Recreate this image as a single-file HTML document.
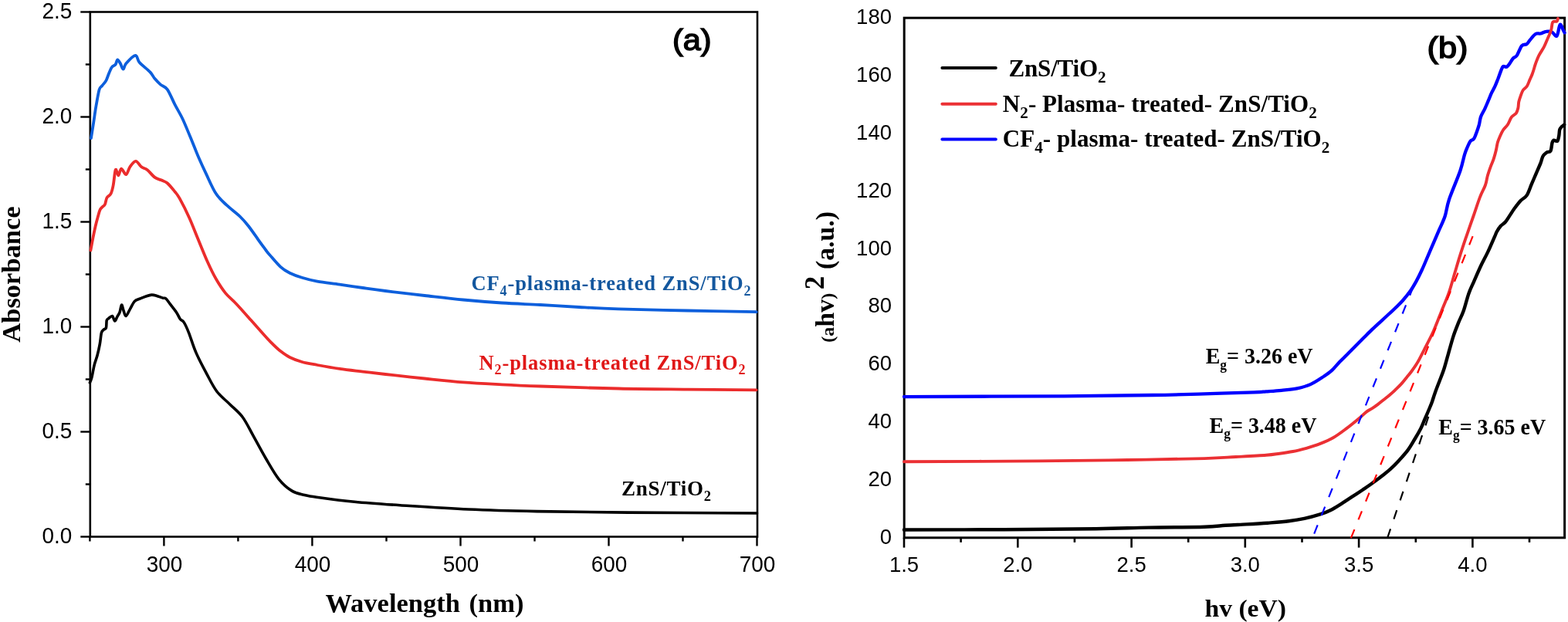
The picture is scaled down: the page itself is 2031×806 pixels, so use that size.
<!DOCTYPE html><html><head><meta charset="utf-8"><title>Absorbance and Tauc plots</title><style>html,body{margin:0;padding:0;background:#fff;width:2031px;height:806px;overflow:hidden}svg{display:block}</style></head><body>
<svg width="2031" height="806" viewBox="0 0 2031 806">
<rect width="2031" height="806" fill="#fff"/>
<g stroke="#000" stroke-width="2.6" fill="none" stroke-linecap="square">
<rect x="116.8" y="15.5" width="864.2" height="680.0"/>
</g>
<g stroke="#000" stroke-width="2.4"><line x1="116.4" y1="695.5" x2="116.4" y2="701.5"/><line x1="212.4" y1="695.5" x2="212.4" y2="707.5"/><line x1="308.4" y1="695.5" x2="308.4" y2="701.5"/><line x1="404.4" y1="695.5" x2="404.4" y2="707.5"/><line x1="500.5" y1="695.5" x2="500.5" y2="701.5"/><line x1="596.5" y1="695.5" x2="596.5" y2="707.5"/><line x1="692.5" y1="695.5" x2="692.5" y2="701.5"/><line x1="788.5" y1="695.5" x2="788.5" y2="707.5"/><line x1="884.5" y1="695.5" x2="884.5" y2="701.5"/><line x1="980.5" y1="695.5" x2="980.5" y2="707.5"/><line x1="104.3" y1="695.5" x2="116.8" y2="695.5"/><line x1="110.8" y1="627.5" x2="116.8" y2="627.5"/><line x1="104.3" y1="559.5" x2="116.8" y2="559.5"/><line x1="110.8" y1="491.5" x2="116.8" y2="491.5"/><line x1="104.3" y1="423.5" x2="116.8" y2="423.5"/><line x1="110.8" y1="355.5" x2="116.8" y2="355.5"/><line x1="104.3" y1="287.5" x2="116.8" y2="287.5"/><line x1="110.8" y1="219.5" x2="116.8" y2="219.5"/><line x1="104.3" y1="151.5" x2="116.8" y2="151.5"/><line x1="110.8" y1="83.5" x2="116.8" y2="83.5"/><line x1="104.3" y1="15.5" x2="116.8" y2="15.5"/></g>
<g fill="none" stroke-linejoin="round" stroke-linecap="round">
<path d="M118.0,179.0 C118.5,175.8 119.9,167.0 121.0,160.0 C122.1,153.0 123.2,144.3 124.5,137.0 C125.8,129.7 127.3,120.3 128.6,116.0 C129.9,111.7 130.9,112.9 132.3,111.0 C133.8,109.1 136.1,106.7 137.3,104.6 C138.6,102.5 138.6,101.3 139.8,98.4 C141.0,95.5 143.0,89.7 144.7,87.2 C146.3,84.7 148.4,85.2 149.7,83.5 C150.9,81.8 151.2,77.5 152.2,77.3 C153.2,77.1 154.7,80.2 155.9,82.3 C157.1,84.4 158.4,89.7 159.6,89.7 C160.8,89.7 160.7,85.3 163.3,82.3 C165.9,79.3 172.4,72.0 175.3,71.8 C178.2,71.6 177.5,77.4 180.7,81.0 C183.9,84.6 191.1,89.9 194.4,93.4 C197.7,96.9 198.3,99.4 200.6,102.1 C202.9,104.8 205.3,107.3 208.0,109.6 C210.7,111.9 213.6,111.5 216.7,115.8 C219.8,120.1 223.3,129.2 226.6,135.6 C229.9,142.0 233.3,147.2 236.6,154.2 C239.9,161.2 243.0,169.2 246.5,177.5 C250.0,185.8 253.9,196.2 257.4,204.3 C260.9,212.4 263.6,218.2 267.3,225.9 C271.0,233.7 275.4,244.2 279.7,250.8 C284.0,257.4 288.2,260.8 293.4,265.7 C298.6,270.6 306.1,275.9 310.8,280.5 C315.6,285.1 318.0,288.0 321.9,293.0 C325.8,298.0 330.6,305.1 334.3,310.3 C338.0,315.5 341.8,320.6 344.3,324.0 C346.8,327.4 346.3,326.9 349.5,330.5 C352.7,334.1 359.1,342.0 363.4,345.9 C367.7,349.8 370.7,351.5 375.3,353.8 C379.9,356.1 385.2,358.0 391.2,359.8 C397.1,361.6 402.9,363.2 411.0,364.7 C419.1,366.2 430.2,367.3 440.0,368.7 C449.8,370.1 460.1,371.6 470.0,373.0 C479.9,374.4 486.0,375.3 499.3,377.0 C512.6,378.7 533.2,381.1 550.0,383.0 C566.8,384.9 583.3,386.9 600.0,388.5 C616.7,390.1 633.3,391.4 650.0,392.5 C666.7,393.6 683.3,394.1 700.0,395.0 C716.7,395.9 733.2,397.1 750.0,398.0 C766.8,398.9 777.6,399.6 801.0,400.3 C824.4,401.1 860.5,401.9 890.3,402.5 C920.1,403.1 964.8,403.8 979.7,404.1" stroke="#0d5fdc" stroke-width="3.8"/>
<path d="M117.4,324.4 C117.9,321.7 119.5,313.2 120.5,308.0 C121.5,302.8 122.6,297.6 123.6,293.3 C124.6,289.0 125.5,285.5 126.5,282.0 C127.5,278.5 128.4,274.6 129.4,272.3 C130.4,270.1 131.2,269.8 132.3,268.5 C133.4,267.2 135.0,266.9 136.0,264.8 C137.0,262.7 137.2,258.4 138.5,256.1 C139.8,253.8 142.1,253.9 143.5,251.2 C144.9,248.5 145.7,245.2 146.7,240.0 C147.7,234.8 148.6,222.1 149.7,220.0 C150.8,217.9 152.2,227.6 153.4,227.4 C154.6,227.2 155.4,218.9 157.1,218.7 C158.8,218.5 161.4,226.6 163.3,226.2 C165.2,225.8 166.2,219.2 168.3,216.3 C170.4,213.4 173.3,208.8 175.8,208.8 C178.3,208.8 180.7,214.4 183.2,216.3 C185.7,218.2 187.7,217.7 190.6,220.0 C193.5,222.3 197.5,227.6 200.6,229.9 C203.7,232.2 206.6,232.4 209.3,233.6 C212.0,234.8 213.8,234.8 216.7,237.3 C219.6,239.8 223.9,245.2 226.6,248.5 C229.3,251.8 229.7,251.8 232.8,257.4 C235.9,263.0 241.3,273.5 245.2,282.2 C249.1,290.9 252.5,300.0 256.4,309.5 C260.3,319.0 264.9,330.6 268.8,339.3 C272.7,348.0 276.1,355.1 280.0,361.8 C283.9,368.5 287.6,374.3 291.9,379.6 C296.2,384.9 300.5,387.9 305.8,393.5 C311.1,399.1 318.1,407.1 323.7,413.4 C329.3,419.7 335.0,426.1 339.6,431.2 C344.2,436.3 347.5,440.1 351.5,444.1 C355.5,448.1 359.4,452.0 363.4,455.1 C367.4,458.2 370.7,460.7 375.3,463.0 C379.9,465.3 385.2,467.3 391.2,469.0 C397.1,470.7 402.9,471.5 411.0,473.0 C419.1,474.5 430.2,476.5 440.0,477.9 C449.8,479.3 460.1,480.4 470.0,481.6 C479.9,482.8 486.0,483.5 499.3,485.0 C512.6,486.5 533.2,488.8 550.0,490.5 C566.8,492.2 583.3,494.0 600.0,495.3 C616.7,496.6 633.3,497.4 650.0,498.3 C666.7,499.2 674.8,499.6 700.0,500.5 C725.2,501.4 769.3,502.8 801.0,503.5 C832.7,504.2 860.5,504.3 890.3,504.6 C920.1,504.9 964.8,505.2 979.7,505.3" stroke="#eb2c2c" stroke-width="3.8"/>
<path d="M116.4,495.8 C116.8,494.7 117.8,493.2 118.8,489.4 C119.8,485.6 120.9,478.0 122.1,473.2 C123.3,468.4 124.9,464.9 126.1,460.3 C127.3,455.7 128.4,450.6 129.3,445.8 C130.2,441.0 130.6,434.4 131.4,431.3 C132.2,428.2 133.2,428.4 134.2,427.3 C135.2,426.2 136.7,426.8 137.4,424.8 C138.1,422.8 137.7,417.2 138.2,415.2 C138.7,413.2 139.4,413.6 140.6,412.7 C141.8,411.8 144.2,408.9 145.5,409.5 C146.8,410.1 147.6,415.9 148.7,416.0 C149.8,416.1 150.8,412.2 151.9,410.3 C153.0,408.4 154.2,407.2 155.1,404.7 C156.0,402.1 156.7,395.4 157.5,395.0 C158.3,394.6 159.1,399.9 160.0,402.3 C160.9,404.7 161.7,409.9 163.2,409.5 C164.7,409.1 166.9,403.0 168.8,399.8 C170.7,396.6 172.3,392.4 174.5,390.2 C176.7,388.0 179.1,388.0 181.7,386.9 C184.2,385.8 187.4,384.5 189.8,383.7 C192.2,382.9 194.3,382.2 196.3,382.1 C198.3,382.0 199.5,382.2 201.9,382.9 C204.3,383.6 208.7,385.4 210.8,386.1 C213.0,386.8 213.2,385.5 214.8,386.9 C216.4,388.2 218.2,391.2 220.5,394.2 C222.8,397.2 226.3,401.5 228.5,404.7 C230.7,407.9 231.8,411.4 233.4,413.5 C235.0,415.6 236.3,414.6 238.2,417.6 C240.1,420.6 242.0,424.7 244.6,431.3 C247.2,437.9 250.2,448.4 254.0,457.1 C257.8,465.8 262.9,475.3 267.3,483.6 C271.8,491.9 275.7,500.3 280.7,507.0 C285.7,513.7 291.9,518.1 297.5,523.7 C303.1,529.3 309.2,533.8 314.2,540.5 C319.2,547.2 322.6,555.0 327.6,563.9 C332.6,572.8 338.7,584.5 344.3,594.0 C349.9,603.5 355.5,613.8 361.1,620.8 C366.7,627.8 372.2,632.4 377.8,635.9 C383.4,639.4 389.2,640.1 394.6,641.5 C400.0,642.9 399.2,642.8 410.0,644.2 C420.8,645.7 441.1,648.5 459.1,650.2 C477.1,652.0 493.6,653.1 518.2,654.7 C542.8,656.3 577.3,658.7 606.8,660.0 C636.3,661.3 660.9,661.9 695.4,662.6 C729.9,663.3 766.1,663.7 813.6,664.1 C861.1,664.5 952.7,664.9 980.5,665.0" stroke="#000" stroke-width="3.6"/>
</g>
<g font-family="'Liberation Sans', Arial, sans-serif" font-size="28.5" fill="#000"><text transform="translate(213.0,740.6) scale(0.98,1.05)" text-anchor="middle">300</text><text transform="translate(405.0,740.6) scale(0.98,1.05)" text-anchor="middle">400</text><text transform="translate(597.1,740.6) scale(0.98,1.05)" text-anchor="middle">500</text><text transform="translate(789.1,740.6) scale(0.98,1.05)" text-anchor="middle">600</text><text transform="translate(981.1,740.6) scale(0.98,1.05)" text-anchor="middle">700</text><text transform="translate(93.2,703.7) scale(0.98,1.05)" text-anchor="end">0.0</text><text transform="translate(93.2,567.7) scale(0.98,1.05)" text-anchor="end">0.5</text><text transform="translate(93.2,431.7) scale(0.98,1.05)" text-anchor="end">1.0</text><text transform="translate(93.2,295.7) scale(0.98,1.05)" text-anchor="end">1.5</text><text transform="translate(93.2,159.7) scale(0.98,1.05)" text-anchor="end">2.0</text><text transform="translate(93.2,23.7) scale(0.98,1.05)" text-anchor="end">2.5</text></g>
<text x="421.5" y="793.2" font-family="'Liberation Serif', 'Times New Roman', serif" font-weight="bold" font-size="34.5" fill="#000">Wavelength <tspan x="607.5">(nm)</tspan></text>
<text transform="translate(26,355.5) rotate(-90)" text-anchor="middle" font-family="'Liberation Serif', 'Times New Roman', serif" font-weight="bold" font-size="34.5" fill="#000">Absorbance</text>
<text x="871" y="65.3" textLength="50.5" lengthAdjust="spacingAndGlyphs" font-family="'Liberation Sans', Arial, sans-serif" font-size="38.5" fill="#000" stroke="#000" stroke-width="1.5">(a)</text>
<text x="610.5" y="376.0" font-family="'Liberation Serif', 'Times New Roman', serif" font-weight="bold" font-size="26.5" fill="#13579e" text-anchor="start" textLength="362" lengthAdjust="spacing"><tspan>CF</tspan><tspan dy="6.5" font-size="18.0">4</tspan><tspan dy="-6.5">-plasma-treated ZnS/TiO</tspan><tspan dy="6.5" font-size="18.0">2</tspan></text>
<text x="620.5" y="478.7" font-family="'Liberation Serif', 'Times New Roman', serif" font-weight="bold" font-size="26.5" fill="#e01818" text-anchor="start" textLength="345" lengthAdjust="spacing"><tspan>N</tspan><tspan dy="6.5" font-size="18.0">2</tspan><tspan dy="-6.5">-plasma-treated ZnS/TiO</tspan><tspan dy="6.5" font-size="18.0">2</tspan></text>
<text x="805" y="642.2" font-family="'Liberation Serif', 'Times New Roman', serif" font-weight="bold" font-size="27" fill="#000" text-anchor="start" textLength="116" lengthAdjust="spacing"><tspan>ZnS/TiO</tspan><tspan dy="6.5" font-size="18.4">2</tspan></text>
<rect x="1171.2" y="23.2" width="855.3999999999999" height="673.5999999999999" stroke="#000" stroke-width="3" fill="none"/>
<g stroke="#000" stroke-width="2.6"><line x1="1171.0" y1="696.8" x2="1171.0" y2="709.5999999999999"/><line x1="1244.6" y1="696.8" x2="1244.6" y2="702.8"/><line x1="1318.3" y1="696.8" x2="1318.3" y2="709.5999999999999"/><line x1="1391.9" y1="696.8" x2="1391.9" y2="702.8"/><line x1="1465.6" y1="696.8" x2="1465.6" y2="709.5999999999999"/><line x1="1539.2" y1="696.8" x2="1539.2" y2="702.8"/><line x1="1612.8" y1="696.8" x2="1612.8" y2="709.5999999999999"/><line x1="1686.5" y1="696.8" x2="1686.5" y2="702.8"/><line x1="1760.1" y1="696.8" x2="1760.1" y2="709.5999999999999"/><line x1="1833.8" y1="696.8" x2="1833.8" y2="702.8"/><line x1="1907.4" y1="696.8" x2="1907.4" y2="709.5999999999999"/><line x1="1981.0" y1="696.8" x2="1981.0" y2="702.8"/></g>
<g fill="none" stroke-linejoin="round" stroke-linecap="round">
<path d="M1171.0,514.1 C1205.6,514.0 1324.7,513.6 1378.4,513.3 C1432.1,512.9 1462.8,512.5 1493.1,512.0 C1523.4,511.5 1538.1,510.9 1560.0,510.3 C1581.9,509.7 1611.2,508.9 1624.5,508.4 C1637.8,507.9 1634.1,507.7 1640.0,507.3 C1645.9,506.9 1653.3,506.5 1660.0,505.8 C1666.7,505.1 1673.8,504.6 1680.0,503.3 C1686.2,502.0 1691.6,500.7 1697.4,498.1 C1703.2,495.5 1710.1,490.7 1714.7,487.7 C1719.3,484.7 1721.7,483.1 1725.2,479.9 C1728.7,476.7 1732.1,472.2 1735.6,468.6 C1739.1,465.0 1742.5,461.7 1746.0,458.2 C1749.5,454.7 1752.9,451.2 1756.4,447.7 C1759.9,444.2 1763.3,440.8 1766.8,437.3 C1770.3,433.8 1773.8,430.2 1777.3,426.9 C1780.8,423.6 1783.9,420.8 1787.7,417.3 C1791.5,413.8 1796.5,409.2 1800.0,406.0 C1803.5,402.8 1805.7,400.8 1808.5,398.0 C1811.3,395.2 1814.0,392.7 1817.1,389.2 C1820.2,385.7 1824.1,380.9 1827.0,376.8 C1829.9,372.7 1832.0,368.9 1834.5,364.4 C1837.0,359.8 1839.4,354.9 1841.9,349.5 C1844.4,344.1 1846.9,337.9 1849.4,332.1 C1851.9,326.3 1854.3,320.6 1856.8,314.8 C1859.3,309.0 1861.8,303.2 1864.3,297.4 C1866.8,291.6 1869.6,286.5 1871.7,280.0 C1873.8,273.5 1873.8,268.0 1877.1,258.2 C1880.4,248.4 1888.1,230.9 1891.4,221.2 C1894.7,211.5 1895.5,205.3 1897.1,200.1 C1898.7,194.9 1899.7,193.1 1900.9,190.2 C1902.2,187.3 1903.2,184.5 1904.6,182.8 C1906.0,181.1 1907.7,181.8 1909.1,179.8 C1910.5,177.8 1911.7,173.9 1912.8,170.9 C1913.9,167.9 1914.9,165.1 1915.8,161.9 C1916.7,158.7 1916.8,155.0 1918.0,151.5 C1919.2,148.0 1921.6,144.6 1923.2,141.1 C1924.8,137.6 1926.2,134.2 1927.7,130.7 C1929.2,127.2 1930.6,123.4 1932.1,120.2 C1933.6,117.0 1935.2,114.3 1936.6,111.3 C1938.0,108.3 1939.0,105.5 1940.3,102.3 C1941.5,99.1 1943.0,94.6 1944.1,91.9 C1945.2,89.2 1945.8,86.9 1947.0,86.0 C1948.2,85.1 1950.0,87.5 1951.5,86.7 C1953.0,86.0 1954.6,83.4 1956.0,81.5 C1957.4,79.6 1958.5,77.1 1960.0,75.5 C1961.5,73.9 1963.0,74.6 1964.8,71.9 C1966.6,69.2 1969.0,61.8 1971.1,59.3 C1973.2,56.8 1975.6,58.4 1977.4,57.2 C1979.2,56.0 1979.8,54.1 1981.7,51.9 C1983.6,49.7 1986.7,45.4 1989.0,44.0 C1991.3,42.6 1993.1,44.0 1995.4,43.5 C1997.7,43.0 2000.2,41.1 2002.7,40.8 C2005.2,40.4 2007.8,40.4 2010.1,41.4 C2012.4,42.4 2014.7,48.2 2016.5,46.6 C2018.3,45.0 2019.3,33.1 2020.7,31.9 C2022.1,30.7 2023.9,37.5 2024.9,39.2 C2025.9,41.0 2026.2,41.9 2026.5,42.4" stroke="#0000ff" stroke-width="4.3"/>
<path d="M1171.0,598.2 C1200.1,598.1 1297.5,597.8 1345.7,597.4 C1393.9,597.0 1424.6,596.5 1460.3,596.0 C1496.0,595.5 1536.6,594.8 1560.0,594.1 C1583.4,593.4 1587.6,592.7 1600.9,592.0 C1614.2,591.3 1630.6,590.5 1640.0,589.8 C1649.4,589.1 1651.6,588.5 1657.4,587.7 C1663.2,586.9 1668.9,586.1 1674.7,585.0 C1680.5,583.9 1686.3,582.4 1692.1,580.8 C1697.9,579.1 1703.7,577.4 1709.5,575.1 C1715.3,572.8 1721.0,570.5 1726.8,567.2 C1732.6,563.9 1738.4,559.4 1744.2,555.1 C1750.0,550.8 1757.2,544.8 1761.5,541.2 C1765.8,537.6 1767.3,535.6 1770.0,533.6 C1772.7,531.6 1774.9,530.7 1777.4,529.1 C1779.9,527.5 1782.4,525.8 1784.9,523.9 C1787.4,522.0 1789.8,520.0 1792.3,518.0 C1794.8,516.0 1797.3,514.1 1799.8,512.0 C1802.3,509.9 1804.7,507.7 1807.2,505.3 C1809.7,502.9 1812.2,500.6 1814.7,497.9 C1817.2,495.2 1819.9,491.6 1822.1,488.9 C1824.3,486.2 1825.7,484.8 1828.1,481.5 C1830.5,478.2 1833.8,473.6 1836.5,469.0 C1839.2,464.4 1841.0,460.5 1844.4,453.8 C1847.8,447.1 1853.1,437.3 1856.8,429.0 C1860.5,420.7 1863.5,412.4 1866.8,404.1 C1870.1,395.8 1873.8,387.6 1876.7,379.3 C1879.6,371.0 1881.6,362.8 1884.1,354.5 C1886.6,346.2 1889.1,337.6 1891.6,329.7 C1894.1,321.8 1896.2,315.6 1899.0,307.3 C1901.8,299.0 1905.5,288.6 1908.5,280.0 C1911.5,271.4 1914.4,262.1 1917.0,255.4 C1919.6,248.7 1922.2,244.7 1923.9,240.0 C1925.6,235.3 1925.7,231.6 1926.9,227.5 C1928.1,223.4 1929.6,219.2 1930.9,215.6 C1932.2,212.0 1933.7,209.2 1934.8,205.7 C1935.9,202.2 1937.0,198.3 1937.8,194.8 C1938.6,191.3 1939.0,187.8 1939.8,184.8 C1940.6,181.8 1941.6,179.6 1942.8,176.9 C1944.0,174.2 1945.3,171.1 1947.0,168.5 C1948.7,165.9 1951.1,164.3 1952.9,161.5 C1954.7,158.7 1956.1,154.1 1957.9,151.6 C1959.7,149.1 1962.5,148.6 1963.9,146.6 C1965.3,144.6 1965.8,142.2 1966.4,139.7 C1967.0,137.2 1966.7,134.3 1967.3,131.7 C1967.9,129.0 1968.9,126.3 1969.8,123.8 C1970.7,121.3 1971.5,118.8 1972.8,116.8 C1974.1,114.8 1976.3,114.1 1977.8,111.8 C1979.3,109.5 1980.5,105.5 1981.7,102.9 C1982.9,100.3 1983.9,98.2 1984.7,96.0 C1985.5,93.8 1986.0,92.2 1986.7,90.0 C1987.4,87.8 1987.9,85.5 1989.0,82.5 C1990.1,79.5 1991.5,75.4 1993.3,71.9 C1995.1,68.4 1997.8,64.7 1999.6,61.4 C2001.3,58.1 2002.2,55.6 2003.8,51.9 C2005.4,48.2 2007.9,43.1 2009.1,39.2 C2010.3,35.3 2010.0,30.6 2011.2,28.7 C2012.4,26.8 2015.4,28.5 2016.5,27.7 C2017.6,26.9 2017.8,24.6 2018.0,24.0" stroke="#eb3034" stroke-width="3.9"/>
<path d="M1171.0,686.5 C1192.5,686.5 1258.6,686.4 1300.0,686.2 C1341.4,686.0 1388.1,685.7 1419.4,685.3 C1450.7,684.9 1464.2,684.0 1487.6,683.6 C1511.0,683.2 1543.4,683.3 1560.0,682.8 C1576.6,682.3 1578.2,681.3 1587.3,680.7 C1596.4,680.1 1605.5,679.9 1614.6,679.4 C1623.7,678.9 1632.8,678.4 1641.9,677.7 C1651.0,677.0 1661.2,676.3 1669.2,675.3 C1677.2,674.3 1682.8,673.4 1689.6,671.9 C1696.4,670.4 1704.4,668.2 1710.1,666.4 C1715.8,664.6 1719.2,663.3 1723.7,661.0 C1728.2,658.7 1732.9,655.6 1737.4,652.8 C1742.0,649.9 1746.5,646.9 1751.0,643.9 C1755.5,640.9 1760.2,638.1 1764.7,635.0 C1769.2,631.9 1773.8,628.8 1778.3,625.5 C1782.8,622.2 1788.2,618.2 1792.0,615.2 C1795.8,612.2 1797.8,610.7 1801.2,607.6 C1804.6,604.5 1808.6,600.4 1812.3,596.4 C1816.0,592.4 1820.1,588.0 1823.5,583.4 C1826.9,578.8 1830.0,573.1 1832.8,568.5 C1835.6,563.9 1838.0,559.8 1840.2,555.5 C1842.4,551.2 1843.9,546.8 1845.8,542.5 C1847.7,538.2 1849.9,533.2 1851.4,529.5 C1853.0,525.8 1853.9,523.6 1855.1,520.2 C1856.3,516.8 1857.2,513.3 1858.8,509.0 C1860.3,504.7 1862.5,499.1 1864.4,494.2 C1866.3,489.2 1868.1,485.0 1870.0,479.3 C1871.9,473.6 1873.5,467.1 1875.6,459.9 C1877.6,452.7 1880.1,443.2 1882.3,436.3 C1884.5,429.4 1886.8,424.0 1889.0,418.4 C1891.2,412.8 1893.5,409.1 1895.7,402.8 C1897.9,396.5 1900.2,386.7 1902.4,380.4 C1904.6,374.1 1906.5,370.8 1909.1,364.8 C1911.7,358.9 1915.0,351.0 1918.0,344.7 C1921.0,338.4 1924.0,333.2 1927.0,326.9 C1930.0,320.6 1933.9,311.3 1935.9,306.8 C1937.9,302.3 1937.6,302.3 1938.9,300.0 C1940.2,297.7 1942.1,294.8 1943.9,292.8 C1945.7,290.8 1947.8,290.1 1949.8,287.8 C1951.8,285.5 1953.8,281.9 1955.8,278.9 C1957.8,275.9 1959.4,273.1 1961.7,270.0 C1964.0,266.9 1967.1,262.8 1969.7,260.0 C1972.3,257.2 1975.3,256.6 1977.6,253.1 C1979.9,249.6 1981.6,243.8 1983.6,239.2 C1985.6,234.6 1987.5,229.9 1989.5,225.3 C1991.5,220.7 1994.0,215.2 1995.5,211.4 C1997.0,207.6 1997.2,204.8 1998.5,202.5 C1999.8,200.2 2001.8,198.7 2003.4,197.5 C2005.1,196.3 2007.2,197.6 2008.4,195.6 C2009.6,193.6 2009.8,187.9 2010.4,185.6 C2011.1,183.3 2011.2,182.2 2012.3,181.7 C2013.4,181.2 2016.1,183.7 2017.3,182.7 C2018.5,181.7 2018.8,178.2 2019.3,175.7 C2019.8,173.2 2019.6,169.8 2020.3,167.8 C2021.0,165.8 2022.3,164.9 2023.3,163.8 C2024.3,162.8 2025.7,161.9 2026.2,161.5" stroke="#000" stroke-width="4.4"/>
</g>
<g fill="none" stroke-width="2.2" stroke-dasharray="12,13.6">
<line x1="1702.2" y1="691.6" x2="1829.5" y2="374.3" stroke="#0000ff"/>
<line x1="1749.9" y1="697.2" x2="1907.9" y2="305.5" stroke="#ff0000"/>
<line x1="1797.2" y1="696.8" x2="1850.6" y2="539" stroke="#000"/>
</g>
<g font-family="'Liberation Sans', Arial, sans-serif" font-size="27.5" fill="#000"><text x="1171.0" y="740.7" text-anchor="middle">1.5</text><text x="1318.3" y="740.7" text-anchor="middle">2.0</text><text x="1465.6" y="740.7" text-anchor="middle">2.5</text><text x="1612.8" y="740.7" text-anchor="middle">3.0</text><text x="1760.1" y="740.7" text-anchor="middle">3.5</text><text x="1907.4" y="740.7" text-anchor="middle">4.0</text><text x="1155" y="704.8" text-anchor="end">0</text><text x="1155" y="630.0" text-anchor="end">20</text><text x="1155" y="555.1" text-anchor="end">40</text><text x="1155" y="480.3" text-anchor="end">60</text><text x="1155" y="405.4" text-anchor="end">80</text><text x="1155" y="330.6" text-anchor="end">100</text><text x="1155" y="255.7" text-anchor="end">120</text><text x="1155" y="180.9" text-anchor="end">140</text><text x="1155" y="106.0" text-anchor="end">160</text><text x="1155" y="31.2" text-anchor="end">180</text></g>
<text x="1560.5" y="798.8" textLength="105.5" lengthAdjust="spacingAndGlyphs" font-family="'Liberation Serif', 'Times New Roman', serif" font-weight="bold" font-size="32" fill="#000">hv (eV)</text>
<g transform="translate(1080.4,443.1) rotate(-90)" font-family="'Liberation Serif', 'Times New Roman', serif" font-weight="bold" fill="#000"><text x="-0.6" y="0" font-size="24">(a<tspan font-size="34">hv</tspan>)</text><text x="67.8" y="-13.3" font-size="35">2</text><text x="94" y="0" font-size="33.5" textLength="75" lengthAdjust="spacingAndGlyphs">(a.u.)</text></g>
<text x="1848.5" y="74.6" textLength="53" lengthAdjust="spacingAndGlyphs" font-family="'Liberation Sans', Arial, sans-serif" font-size="38.5" fill="#000" stroke="#000" stroke-width="1.5">(b)</text>
<g stroke-width="4" stroke-linecap="round">
<line x1="1220.4" y1="88" x2="1289.8" y2="88" stroke="#000"/>
<line x1="1220.4" y1="134.8" x2="1289.8" y2="134.8" stroke="#eb3034"/>
<line x1="1220.4" y1="180.6" x2="1289.8" y2="180.6" stroke="#0000ff"/>
</g>
<text x="1306.5" y="99.1" font-family="'Liberation Serif', 'Times New Roman', serif" font-weight="bold" font-size="31" fill="#000" text-anchor="start" textLength="126" lengthAdjust="spacing"><tspan>ZnS/TiO</tspan><tspan dy="7.8" font-size="21.1">2</tspan></text>
<text x="1298.8" y="144.7" font-family="'Liberation Serif', 'Times New Roman', serif" font-weight="bold" font-size="31" fill="#000" text-anchor="start" textLength="407" lengthAdjust="spacing"><tspan>N</tspan><tspan dy="7.8" font-size="21.1">2</tspan><tspan dy="-7.8">- Plasma- treated- ZnS/TiO</tspan><tspan dy="7.8" font-size="21.1">2</tspan></text>
<text x="1298.8" y="190.3" font-family="'Liberation Serif', 'Times New Roman', serif" font-weight="bold" font-size="31" fill="#000" text-anchor="start" textLength="423.5" lengthAdjust="spacing"><tspan>CF</tspan><tspan dy="7.8" font-size="21.1">4</tspan><tspan dy="-7.8">- plasma- treated- ZnS/TiO</tspan><tspan dy="7.8" font-size="21.1">2</tspan></text>
<text transform="translate(1561.7,471.2) scale(0.965,1)" font-family="'Liberation Serif', 'Times New Roman', serif" font-weight="bold" font-size="29" fill="#000" text-anchor="start"><tspan>E</tspan><tspan dy="7.5" font-size="18.0">g</tspan><tspan dy="-7.5">= 3.26 eV</tspan></text>
<text transform="translate(1566.6,560.8) scale(0.965,1)" font-family="'Liberation Serif', 'Times New Roman', serif" font-weight="bold" font-size="29" fill="#000" text-anchor="start"><tspan>E</tspan><tspan dy="7.5" font-size="18.0">g</tspan><tspan dy="-7.5">= 3.48 eV</tspan></text>
<text transform="translate(1863.3,562.5) scale(0.965,1)" font-family="'Liberation Serif', 'Times New Roman', serif" font-weight="bold" font-size="29" fill="#000" text-anchor="start"><tspan>E</tspan><tspan dy="7.5" font-size="18.0">g</tspan><tspan dy="-7.5">= 3.65 eV</tspan></text>
</svg></body></html>
